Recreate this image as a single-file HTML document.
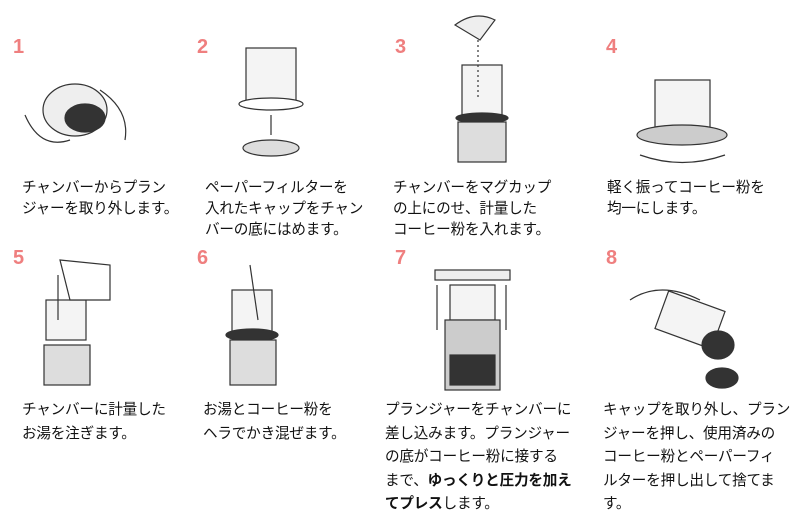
<!DOCTYPE html>
<html><head><meta charset="utf-8"><style>
body{margin:0;width:800px;height:528px;background:#fff;position:relative;overflow:hidden;font-family:"Liberation Sans","Noto Sans CJK JP",sans-serif}
.n{position:absolute;color:#ef7f7f;font-weight:bold;font-size:20px}
.t{position:absolute;font-size:14.6px;color:#111;white-space:nowrap;letter-spacing:-0.2px}
.t1{line-height:21px}.t2{line-height:23.5px}
svg{position:absolute;left:0;top:0}
</style></head><body>
<svg width="800" height="528" fill="none" stroke="#333" stroke-width="1.2">
<!-- 1 -->
<ellipse cx="75" cy="110" rx="32" ry="26" fill="#eee"/><ellipse cx="85" cy="118" rx="20" ry="14" fill="#333"/>
<path d="M25 115 Q40 150 70 140 M100 90 Q130 110 125 140"/>
<!-- 2 -->
<rect x="246" y="48" width="50" height="55" fill="#f4f4f4"/><ellipse cx="271" cy="104" rx="32" ry="6" fill="#fff"/>
<line x1="271" y1="135" x2="271" y2="115"/><ellipse cx="271" cy="148" rx="28" ry="8" fill="#ddd"/>
<!-- 3 -->
<rect x="462" y="65" width="40" height="50" fill="#f4f4f4"/><ellipse cx="482" cy="118" rx="26" ry="5" fill="#333"/>
<rect x="458" y="122" width="48" height="40" fill="#ddd"/><path d="M455 25 Q475 10 495 20 L480 40 Z" fill="#eee"/>
<line x1="478" y1="40" x2="478" y2="100" stroke-dasharray="2 3"/>
<!-- 4 -->
<rect x="655" y="80" width="55" height="50" fill="#f4f4f4"/><ellipse cx="682" cy="135" rx="45" ry="10" fill="#ccc"/>
<path d="M640 155 Q682 170 725 155"/>
<!-- 5 -->
<rect x="46" y="300" width="40" height="40" fill="#f4f4f4"/><rect x="44" y="345" width="46" height="40" fill="#ddd"/>
<path d="M60 260 L110 265 L110 300 L70 300 Z" fill="#fff"/><line x1="58" y1="275" x2="58" y2="320"/>
<!-- 6 -->
<rect x="232" y="290" width="40" height="45" fill="#f4f4f4"/><ellipse cx="252" cy="335" rx="26" ry="6" fill="#333"/>
<rect x="230" y="340" width="46" height="45" fill="#ddd"/><line x1="250" y1="265" x2="258" y2="320"/>
<!-- 7 -->
<rect x="435" y="270" width="75" height="10" fill="#eee"/><rect x="450" y="285" width="45" height="35" fill="#f4f4f4"/>
<rect x="445" y="320" width="55" height="70" fill="#ccc"/><rect x="450" y="355" width="45" height="30" fill="#333"/>
<line x1="437" y1="285" x2="437" y2="330"/><line x1="506" y1="285" x2="506" y2="330"/>
<!-- 8 -->
<rect x="660" y="300" width="60" height="40" fill="#f4f4f4" transform="rotate(20 690 320)"/>
<ellipse cx="718" cy="345" rx="16" ry="14" fill="#333"/><ellipse cx="722" cy="378" rx="16" ry="10" fill="#333"/>
<path d="M630 300 Q660 280 700 300"/>
</svg>
<div class="n" style="left:13px;top:36px">1</div>
<div class="n" style="left:197px;top:36px">2</div>
<div class="n" style="left:395px;top:36px">3</div>
<div class="n" style="left:606px;top:36px">4</div>
<div class="n" style="left:13px;top:247px">5</div>
<div class="n" style="left:197px;top:247px">6</div>
<div class="n" style="left:395px;top:247px">7</div>
<div class="n" style="left:606px;top:247px">8</div>
<div class="t t1" style="left:22px;top:178px">チャンバーからプラン<br>ジャーを取り外します。</div>
<div class="t t1" style="left:205px;top:178px">ペーパーフィルターを<br>入れたキャップをチャン<br>バーの底にはめます。</div>
<div class="t t1" style="left:393px;top:178px">チャンバーをマグカップ<br>の上にのせ、計量した<br>コーヒー粉を入れます。</div>
<div class="t t1" style="left:607px;top:178px">軽く振ってコーヒー粉を<br>均一にします。</div>
<div class="t t2" style="left:22px;top:399px">チャンバーに計量した<br>お湯を注ぎます。</div>
<div class="t t2" style="left:203px;top:399px">お湯とコーヒー粉を<br>ヘラでかき混ぜます。</div>
<div class="t t2" style="left:385px;top:399px">プランジャーをチャンバーに<br>差し込みます。プランジャー<br>の底がコーヒー粉に接する<br>まで、<b>ゆっくりと圧力を加え<br>てプレス</b>します。</div>
<div class="t t2" style="left:603px;top:399px">キャップを取り外し、プラン<br>ジャーを押し、使用済みの<br>コーヒー粉とペーパーフィ<br>ルターを押し出して捨てま<br>す。</div>
</body></html>
